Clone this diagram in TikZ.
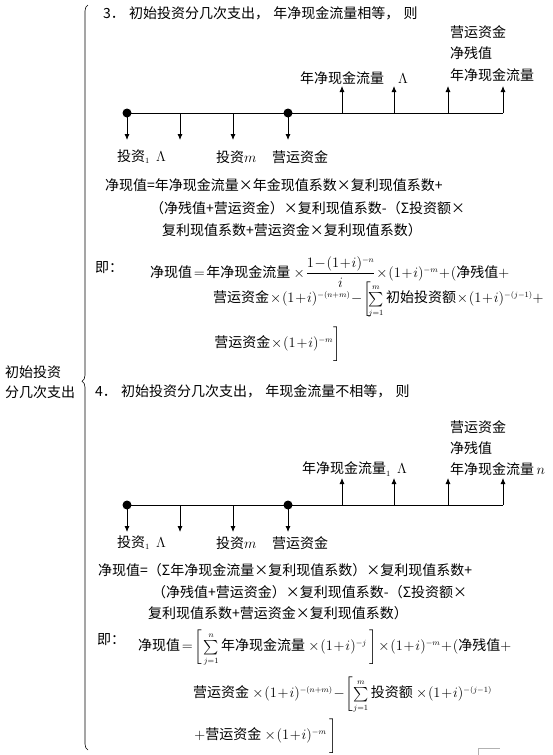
\documentclass[tikz,border=0pt]{standalone}
\usepackage{amsmath}
\usepackage[no-math]{fontspec}
\setmainfont{Noto Sans CJK SC}
\usetikzlibrary{arrows.meta,decorations.pathreplacing}
\DeclareMathSizes{14}{14}{8}{6}
\newcommand\X{\makebox[1em]{×}}
\newcommand\pu[1]{#1\hspace{.3em}}

\begin{document}
\begin{tikzpicture}[x=1pt, y=-1pt,
    txt/.style={anchor=west, inner sep=0pt, font=\fontsize{14}{16}\selectfont},
    eq/.style={txt, execute at begin node={\medmuskip=1mu\thickmuskip=2mu}},
    flow/.style={-{Latex[length=6pt,width=5pt]}, line width=0.8pt},
    dot/.style={circle, fill=black, inner sep=0pt, minimum size=9pt}]
\useasboundingbox (0,0) rectangle (553,755);

% brace
\node[txt] (lead1) at (5,372) {初始投资};
\node[txt] (lead2) at (5,392) {分几次支出};
\coordinate (bb) at (88,750);
\coordinate (bt) at (88,5);
\draw[line width=0.6pt, decorate, decoration={brace, amplitude=6pt, aspect=0.495}] (bb) -- (bt);

% time lines
\foreach \r/\y in {a/113, b/505}{
  \coordinate (\r0) at (127,\y);
  \coordinate (\r9) at (503,\y);
  \draw[line width=0.8pt] (\r0) -- (\r9);
  \foreach \k/\x in {1/127, 2/180, 3/233, 4/288}{
    \coordinate (\r s\k) at (\x,\y);
    \coordinate (\r e\k) at (\x,\y+27);
    \draw[flow] (\r s\k) -- (\r e\k);
  }
  \foreach \k/\x in {5/342, 6/394, 7/448, 8/503}{
    \coordinate (\r s\k) at (\x,\y);
    \coordinate (\r e\k) at (\x,\y-27);
    \draw[flow] (\r s\k) -- (\r e\k);
  }
  \node[dot] (\r p1) at (\r s1) {};
  \node[dot] (\r p4) at (\r s4) {};
}

\node[txt] (h3) at (103,13) {3\pu{．}初始投资分几次支出\pu{，}年净现金流量相等\pu{，}则};
\node[txt] (ya1) at (300,78) {年净现金流量\quad$\Lambda$};
\node[txt] (za1) at (450,32) {营运资金};
\node[txt] (za2) at (450,53) {净残值};
\node[txt] (za3) at (450,75) {年净现金流量};
\node[txt] (xa1) at (117,157) {投资$_1$\ \ $\Lambda$};
\node[txt] (xa2) at (216,157) {投资$m$};
\node[txt] (xa3) at (272,157) {营运资金};

\node[txt] (fa1) at (105,185) {净现值=年净现金流量\X 年金现值系数\X 复利现值系数+};
\node[txt] (fa2) at (150,208) {（净残值+营运资金）\X 复利现值系数-（Σ投资额\X};
\node[txt] (fa3) at (162,230) {复利现值系数+营运资金\X 复利现值系数）};
\node[txt] (ja) at (95,268) {即：};
\node[eq] (ma1) at (150,272) {$\text{净现值} = \text{年净现金流量}\,\times\dfrac{1-(1+i)^{-n}}{i}\times(1+i)^{-m}+(\text{净残值}+$};
\node[eq] (ma2) at (213,300) {$\text{营运资金}\times(1+i)^{-(n+m)}-\left[\!\sum\limits_{j=1}^{m}\text{初始投资额}\times(1+i)^{-(j-1)}+\right.$};
\node[eq] (ma3) at (213,345) {$\left.\text{营运资金}\times(1+i)^{-m}\vphantom{\sum\limits_{j=1}^{m}}\right]$};

\node[txt] (h4) at (95,391) {4\pu{．}初始投资分几次支出\pu{，}年现金流量不相等\pu{，}则};
\node[txt] (yb1) at (302,469) {年净现金流量$_1$\ \ $\Lambda$};
\node[txt] (zb1) at (450,427) {营运资金};
\node[txt] (zb2) at (450,448) {净残值};
\node[txt] (zb3) at (450,469) {年净现金流量\,$n$};
\node[txt] (xb1) at (117,543) {投资$_1$\ \ $\Lambda$};
\node[txt] (xb2) at (216,543) {投资$m$};
\node[txt] (xb3) at (272,543) {营运资金};

\node[txt] (fb1) at (98,570) {净现值=（Σ年净现金流量\X 复利现值系数）\X 复利现值系数+};
\node[txt] (fb2) at (152,592) {（净残值+营运资金）\X 复利现值系数-（Σ投资额\X};
\node[txt] (fb3) at (148,613) {复利现值系数+营运资金\X 复利现值系数）};
\node[txt] (jb) at (97,640) {即：};
\node[eq] (mb1) at (138,648) {$\text{净现值}=\left[\;\sum\limits_{j=1}^{n}\text{年净现金流量}\,\times(1+i)^{-j}\;\;\right]\times(1+i)^{-m}+(\text{净残值}+$};
\node[eq] (mb2) at (193,695) {$\text{营运资金}\,\times(1+i)^{-(n+m)}-\left[\sum\limits_{j=1}^{m}\text{投资额}\,\times(1+i)^{-(j-1)}\right.$};
\node[eq] (mb3) at (193,737) {$\left.+\text{营运资金}\,\times(1+i)^{-m}\;\;\vphantom{\sum\limits_{j=1}^{m}}\right]$};

% corner mark
\coordinate (k1) at (478,755);
\coordinate (k2) at (478,748);
\coordinate (k3) at (500,748);
\draw[gray!60] (k1) -- (k2) -- (k3);
\end{tikzpicture}
\end{document}
